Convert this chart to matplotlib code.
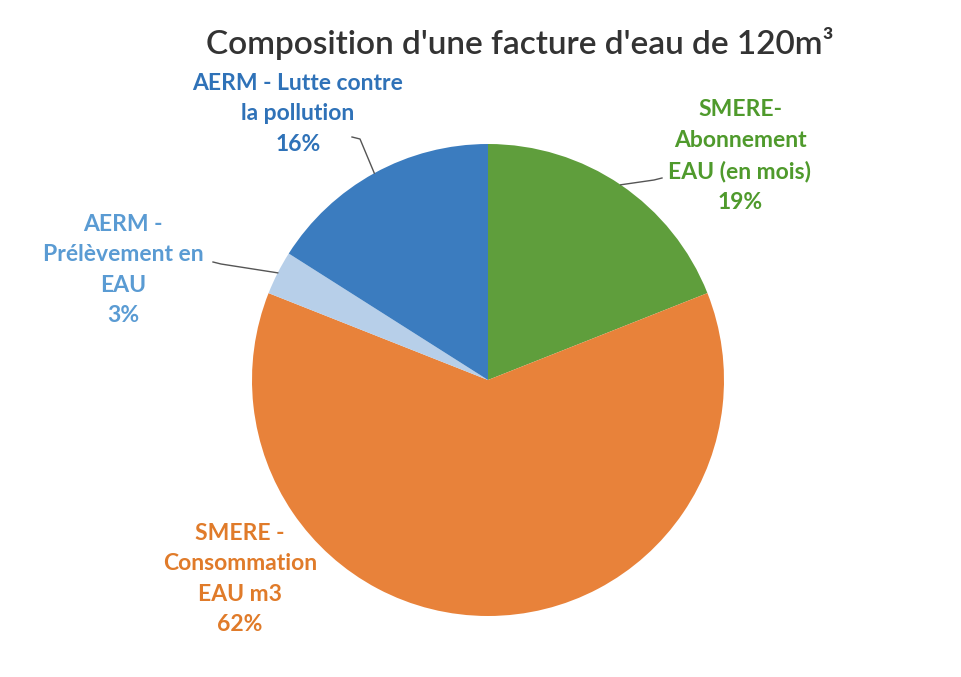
import numpy as np
import matplotlib.pyplot as plt

# parts of the bill, clockwise from 12 o'clock
labels = ["SMERE-\nAbonnement\nEAU (en mois)",
          "SMERE -\nConsommation\nEAU m3",
          "AERM -\nPrélèvement en\nEAU",
          "AERM - Lutte contre\nla pollution"]
shares = [19, 62, 3, 16]
colors = ["#5f9e3c", "#e8823a", "#b7cfe9", "#3b7cbf"]
text_colors = ["#4f9a2c", "#e07b2a", "#5a9bd3", "#2f72b8"]

W, H = 961, 677
fig = plt.figure(figsize=(W / 100, H / 100), dpi=100)
ax = fig.add_axes([0, 0, 1, 1])

cx, cy, r = 488, H - 380, 236
wedges, _ = ax.pie(shares, colors=colors, startangle=90, counterclock=False,
                   center=(cx, cy), radius=r, frame=True,
                   wedgeprops=dict(edgecolor="none", linewidth=0))
ax.set_xlim(0, W)
ax.set_ylim(0, H)
ax.set_aspect("equal")
ax.axis("off")

fig.text(520 / W, 1 - 44 / H, "Composition d'une facture d'eau de 120m³",
         ha="center", va="center", fontsize=24, fontweight="semibold",
         color="#333333", family=["Lato", "DejaVu Sans"])

# label centres (pixel coords from top) and leader line start, None = no line
label_pos = [(740, 156), (240, 579), (123, 270), (298, 114)]
line_start = [(662, 178), None, (213, 262), (352, 137)]

for w, lab, pct, tc, (lx, ly), ls in zip(wedges, labels, shares, text_colors,
                                         label_pos, line_start):
    ax.text(lx, H - ly, f"{lab}\n{pct}%", ha="center", va="center",
            fontsize=16.5, fontweight="bold", color=tc, linespacing=1.55,
            family=["Lato", "DejaVu Sans"])
    if ls is not None:
        mid = np.deg2rad((w.theta1 + w.theta2) / 2)
        ex, ey = cx + r * np.cos(mid), cy + r * np.sin(mid)
        sx, sy = ls[0], H - ls[1]
        kx = sx + (8 if sx < ex else -8)
        ax.plot([sx, kx, ex], [sy, sy - 2, ey], color="#555555", lw=1)

fig.savefig("out.png", dpi=100)
